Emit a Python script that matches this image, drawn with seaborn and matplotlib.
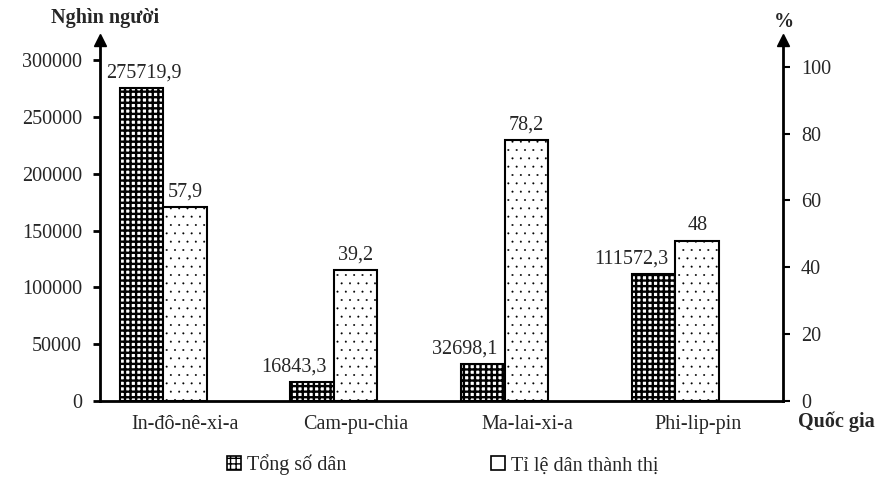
import matplotlib
matplotlib.use("Agg")
import matplotlib.pyplot as plt
from matplotlib.patches import Patch
import seaborn as sns
import pandas as pd

# Dữ liệu
countries = ["In-đô-nê-xi-a", "Cam-pu-chia", "Ma-lai-xi-a", "Phi-lip-pin"]
population = [275719.9, 16843.3, 32698.1, 111572.3]
urban_rate = [57.9, 39.2, 78.2, 48]
series_names = ["Tổng số dân", "Tỉ lệ dân thành thị"]
left_ticks = [0, 50000, 100000, 150000, 200000, 250000, 300000]
right_ticks = [0, 20, 40, 60, 80, 100]

df = pd.DataFrame({
    "country": countries * 2,
    "value": population + urban_rate,
    "series": [series_names[0]] * 4 + [series_names[1]] * 4,
})

sns.set_theme(style="white")
plt.rcParams["font.family"] = ["Liberation Serif", "DejaVu Serif"]
FS = 14.5

fig = plt.figure(figsize=(8.77, 4.86), dpi=100)
ax = fig.add_axes([100 / 877, 85 / 486, 683 / 877, 361 / 486])
ax2 = ax.twinx()

common = dict(x="country", y="value", hue="series", hue_order=series_names,
              order=countries, dodge=True, width=0.51, edgecolor="black",
              linewidth=1.5, legend=False)
pal = {series_names[0]: "white", series_names[1]: "white"}
sns.barplot(data=df[df.series == series_names[0]], ax=ax, palette=pal,
            hatch="+++", **common)
sns.barplot(data=df[df.series == series_names[1]], ax=ax2, palette=pal,
            hatch="..", **common)

# dịch cụm cột sang trái một chút như hình gốc
for a, hl in ((ax, 1.7), (ax2, 0.2)):
    for p in a.patches:
        p.set_x(p.get_x() - 0.13)
        if hasattr(p, "set_hatch_linewidth"):
            p.set_hatch_linewidth(hl)

ax.set_xlim(-0.5, 3.5)
ax.set_ylim(0, 317600)
ax2.set_ylim(0, 108)
ax.set_yticks(left_ticks)
ax2.set_yticks(right_ticks)
ax.set_yticklabels([str(t) for t in left_ticks])
ax2.set_yticklabels([str(t) for t in right_ticks])
ax.set_xlabel("")
ax.set_ylabel("")
ax2.set_ylabel("")

for a in (ax, ax2):
    a.grid(False)
    a.spines["top"].set_visible(False)
    for s in a.spines.values():
        s.set_linewidth(2)
        s.set_color("black")
ax.spines["right"].set_visible(False)
ax2.spines["left"].set_visible(False)
ax2.spines["bottom"].set_visible(False)

ax.tick_params(axis="y", direction="out", length=5, width=2, color="black",
               labelsize=FS, pad=8, left=True)
ax2.tick_params(axis="y", direction="out", length=5, width=1.5, color="black",
                labelsize=FS, pad=8, right=True)
ax.tick_params(axis="x", length=0, labelsize=FS, pad=10)

# mũi tên ở đầu trục
ax.plot(0, 1, marker="^", color="black", markersize=9, transform=ax.transAxes, clip_on=False)
ax2.plot(1, 1, marker="^", color="black", markersize=9, transform=ax2.transAxes, clip_on=False)

# nhãn giá trị
bars_pop = ax.patches[:4]
bars_urb = ax2.patches[:4]
for bp, bu, v, u in zip(bars_pop, bars_urb, population, urban_rate):
    left_taller = (v / 317600) > (u / 108)
    txt = f"{v:.1f}".replace(".", ",")
    if left_taller:
        ax.annotate(txt, (bp.get_x() + bp.get_width() / 2, v),
                    xytext=(2, 4), textcoords="offset points", ha="center", va="bottom", fontsize=FS)
    else:
        ax.annotate(txt, (bp.get_x() + bp.get_width(), v),
                    xytext=(-5, 4), textcoords="offset points", ha="right", va="bottom", fontsize=FS)
    lab = f"{u:g}".replace(".", ",")
    ax2.annotate(lab, (bu.get_x() + bu.get_width() / 2, u),
                 xytext=(0, 4), textcoords="offset points", ha="center", va="bottom", fontsize=FS)

fig.text(105 / 877, 1 - 18 / 486, "Nghìn người", ha="center", va="center", fontsize=FS, weight="bold")
fig.text(784 / 877, 1 - 22 / 486, "%", ha="center", va="center", fontsize=FS, weight="bold")
fig.text(0.998, 1 - 422 / 486, "Quốc gia", ha="right", va="center", fontsize=FS, weight="bold")

handles = [Patch(facecolor="white", edgecolor="black", hatch="+++", linewidth=1.2),
           Patch(facecolor="white", edgecolor="black", linewidth=1.2)]
fig.legend(handles, series_names, loc="center", bbox_to_anchor=(0.505, 1 - 465 / 486),
           ncol=2, frameon=False, prop={"family": ["Liberation Serif"], "size": FS},
           handlelength=0.7, handleheight=0.7, handletextpad=0.3, columnspacing=7.2)

fig.savefig("out.png", dpi=100)
plt.close(fig)
